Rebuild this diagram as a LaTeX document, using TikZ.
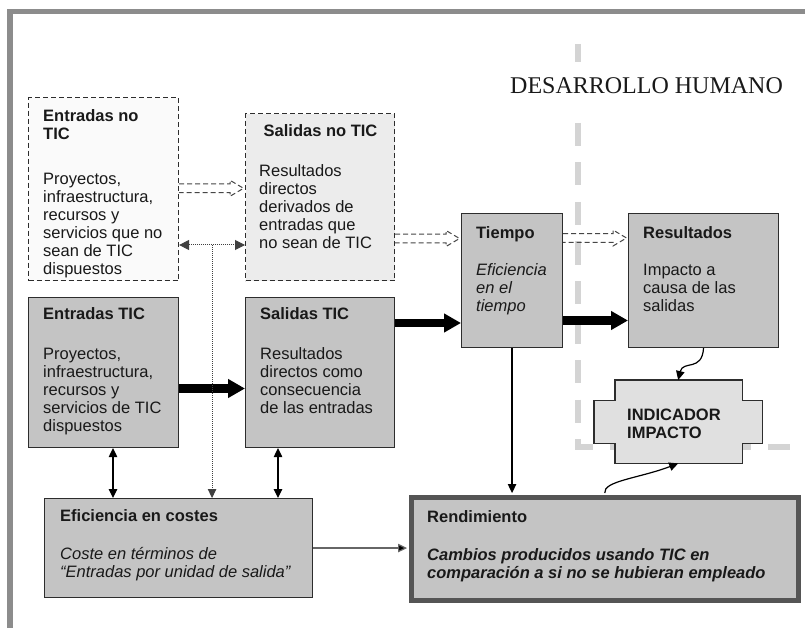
\documentclass[tikz,border=0pt]{standalone}
\usepackage{fontspec}
\setmainfont{Liberation Sans}
\newfontfamily\ttlfont{Liberation Serif}
\usetikzlibrary{arrows.meta,calc}
\definecolor{framecol}{RGB}{140,140,140}
\definecolor{regcol}{RGB}{212,212,212}
\definecolor{boxline}{RGB}{45,45,45}
\definecolor{darkfill}{RGB}{196,196,196}
\definecolor{snofill}{RGB}{236,236,236}
\definecolor{enofill}{RGB}{250,250,250}
\definecolor{indfill}{RGB}{224,224,224}
\definecolor{renline}{RGB}{85,85,85}
\definecolor{txtcol}{RGB}{25,25,25}
\definecolor{hollowcol}{RGB}{70,70,70}
\newcommand\hollowarr[3]{%
 \draw[hollow] ($(#1.east |- 0,#3)+(0,-4.3)$) -- ($(#2.west |- 0,#3)+(-15,-4.3)$) -- ($(#2.west |- 0,#3)+(-15,-8)$) -- ($(#2.west |- 0,#3)+(-1.5,0)$) -- ($(#2.west |- 0,#3)+(-15,8)$) -- ($(#2.west |- 0,#3)+(-15,4.3)$) -- ($(#1.east |- 0,#3)+(0,4.3)$);}
\tikzset{
 boxbase/.style={rectangle, inner sep=0pt, anchor=north west, draw=boxline, line width=1.1pt},
 darkbox/.style={boxbase, fill=darkfill},
 dashbox/.style={boxbase, dash pattern=on 5pt off 3pt},
 txt/.style={inner sep=0pt, anchor=north west, align=left, text=txtcol, font=\fontsize{16.5}{18}\selectfont},
 bigarrow/.style={line width=8.5pt, draw=black, -{Triangle[length=17pt,width=18pt]}},
 thinarrow/.style={line width=1.2pt, draw=black, -{Triangle[length=9pt,width=8.5pt]}},
 dblarrow/.style={line width=1.2pt, draw=black, {Triangle[length=9pt,width=8.5pt]}-{Triangle[length=9pt,width=8.5pt]}},
 dotline/.style={line width=1pt, draw=black!75, dash pattern=on 1pt off 1pt},
 hollow/.style={draw=hollowcol, line width=1pt, dash pattern=on 5pt off 3pt},
}
\begin{document}
\begin{tikzpicture}[x=1pt,y=-1pt]
\useasboundingbox (0,0) rectangle (805,628);
\fill[white] (0,0) rectangle (805,628);
\draw[framecol, line width=5.5pt] (9.8,628) -- (9.8,11.5) -- (805,11.5);
\draw[regcol, line width=5.5pt, dash pattern=on 23pt off 16.5pt] (578,44) -- (578,447) -- (790,447);
\node[font=\ttlfont\fontsize{24}{24}\selectfont, fill=white, inner xsep=2pt, inner ysep=0pt, text height=32pt, text depth=14pt, anchor=base west, text=txtcol] (ttl) at (508,94) {DESARROLLO HUMANO};

% boxes
\node[dashbox, fill=enofill, minimum width=150pt, minimum height=183pt] (eno) at (28,97) {};
\node[dashbox, fill=snofill, minimum width=149pt, minimum height=167pt] (sno) at (245,113) {};
\node[darkbox, minimum width=150pt, minimum height=150pt] (eti) at (28,297) {};
\node[darkbox, minimum width=149pt, minimum height=150pt] (sti) at (245,297) {};
\node[darkbox, minimum width=101pt, minimum height=134pt] (tie) at (461,213) {};
\node[darkbox, minimum width=150pt, minimum height=134pt] (res) at (628,213) {};
\node[darkbox, minimum width=268pt, minimum height=99pt] (efi) at (44,498) {};
\node[darkbox, draw=renline, line width=4.5pt, minimum width=387pt, minimum height=103pt] (ren) at (409,495) {};
\node[inner sep=0pt, anchor=north west, minimum width=168pt, minimum height=83pt] (ind) at (594,380) {};
\draw[boxline, line width=1.1pt, fill=indfill] ($(ind.north west)+(21,0)$) -- ($(ind.north east)+(-20,0)$) -- ($(ind.north east)+(-20,20.5)$) -- ($(ind.north east)+(0,20.5)$) -- ($(ind.south east)+(0,-20)$) -- ($(ind.south east)+(-20,-20)$) -- ($(ind.south east)+(-20,0)$) -- ($(ind.south west)+(21,0)$) -- ($(ind.south west)+(21,-20)$) -- ($(ind.south west)+(0,-20)$) -- ($(ind.north west)+(0,20.5)$) -- ($(ind.north west)+(21,20.5)$) -- cycle;

% texts
\node[txt] (enot) at ($(eno.north west)+(15,12)$) {\textbf{Entradas no}\\\textbf{TIC}\\[27pt]Proyectos,\\infraestructura,\\recursos y\\servicios que no\\sean de TIC\\dispuestos};
\node[txt] (snot) at ($(sno.north west)+(14,11)$) {\hspace*{4.5pt}\textbf{Salidas no TIC}\\[22pt]Resultados\\directos\\derivados de\\entradas que\\no sean de TIC};
\node[txt] (etit) at ($(eti.north west)+(15,10)$) {\textbf{Entradas TIC}\\[22pt]Proyectos,\\infraestructura,\\recursos y\\servicios de TIC\\dispuestos};
\node[txt] (stit) at ($(sti.north west)+(15,10)$) {\textbf{Salidas TIC}\\[22pt]Resultados\\directos como\\consecuencia\\de las entradas};
\node[txt] (tiet) at ($(tie.north west)+(15,13)$) {\textbf{Tiempo}\\[19pt]\textit{Eficiencia}\\\textit{en el}\\\textit{tiempo}};
\node[txt] (rest) at ($(res.north west)+(15,13)$) {\textbf{Resultados}\\[19pt]Impacto a\\causa de las\\salidas};
\node[txt] (efit) at ($(efi.north west)+(16,11)$) {\textbf{Eficiencia en costes}\\[20pt]\textit{Coste en términos de}\\\textit{“Entradas por unidad de salida”}};
\node[txt] (rent) at ($(ren.north west)+(18,15)$) {\textbf{Rendimiento}\\[20pt]\textbf{\textit{Cambios producidos usando TIC en}}\\\textbf{\textit{comparación a si no se hubieran empleado}}};
\node[txt] (indt) at ($(ind.north west)+(33,29)$) {\textbf{INDICADOR}\\\textbf{IMPACTO}};

% hollow dashed arrows
\hollowarr{eno}{sno}{188.3}
\hollowarr{sno}{tie}{238.5}
\hollowarr{tie}{res}{238}

% thick arrows
\draw[bigarrow] (eti.east |- 0,388.5) -- (sti.west |- 0,388.5);
\draw[bigarrow] (sti.east |- 0,323) -- (tie.west |- 0,323);
\draw[bigarrow] (tie.east |- 0,320.5) -- (res.west |- 0,320.5);

% dotted
\coordinate (dm) at ($(eno.east |- 0,245)!0.5!(sno.west |- 0,245)$);
\draw[dotline, {Triangle[length=10pt,width=10pt]}-{Triangle[length=10pt,width=10pt]}] (eno.east |- 0,245) -- (sno.west |- 0,245);
\draw[dotline, -{Triangle[length=9pt,width=8.5pt]}] (dm) -- (dm |- efi.north);

% double arrows
\draw[dblarrow] (113,0 |- eti.south) -- (113,0 |- efi.north);
\draw[dblarrow] (278,0 |- sti.south) -- (278,0 |- efi.north);

% to Rendimiento
\draw[line width=1.2pt, draw=black!60, -{Triangle[length=9pt,width=8.5pt,fill=black]}] (efi.east) -- ($(efi.east -| ren.west)+(-2,0)$);
\draw[thinarrow] (tie.south) -- ($(tie.south |- ren.north)+(0,-2)$);

% curved
\draw[thinarrow] (res.south) .. controls (702,372) and (683,360) .. (ind.north);
\draw[thinarrow] ($(ren.north)+(0,-2)$) .. controls (603,481) and (640,478) .. (ind.south);
\end{tikzpicture}
\end{document}
